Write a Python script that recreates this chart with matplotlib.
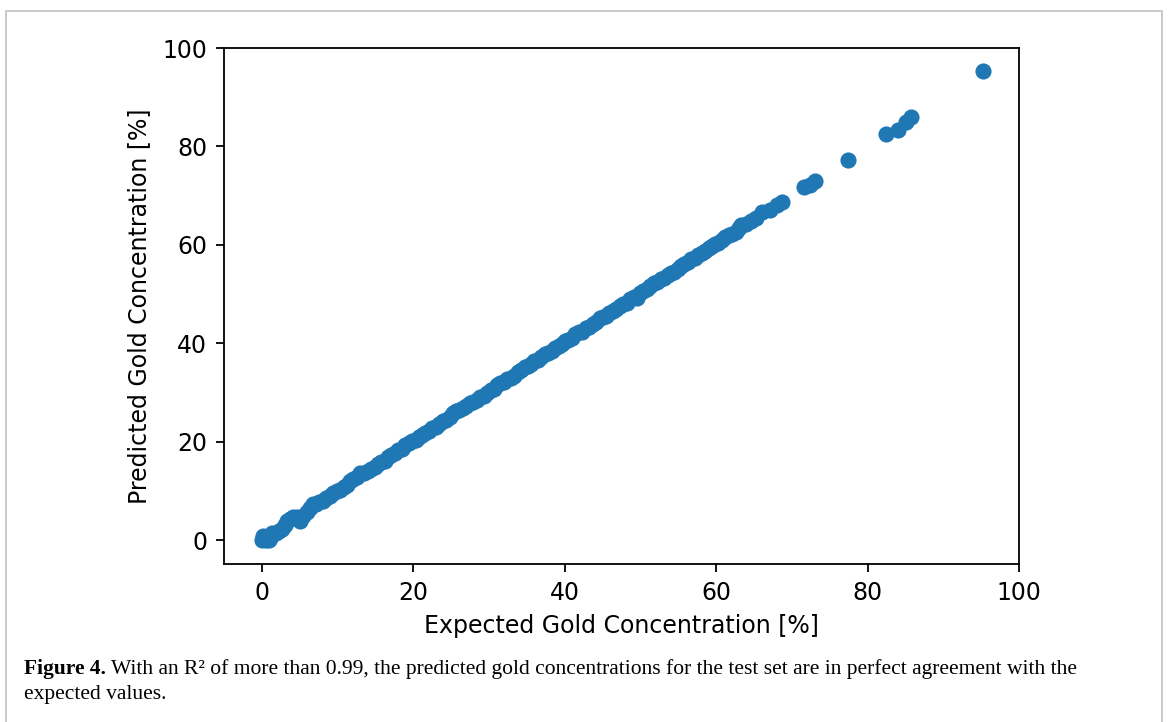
import matplotlib

matplotlib.use("Agg")
import matplotlib.pyplot as plt
from matplotlib.patches import Rectangle

# expected vs predicted gold concentration [%]
expected = [
    0.0, 0.1, 0.3, 0.6, 0.9, 1.1, 1.4, 1.8, 2.2, 2.6, 3.0, 3.3, 3.7, 4.1, 4.6,
    5.1, 5.4, 5.9, 6.3, 6.8, 7.2, 7.6, 8.1, 8.5, 9.0, 9.4, 9.9, 10.3, 10.8, 11.2,
    11.7, 12.1, 12.6, 13.0, 13.5, 14.0, 14.4, 14.9, 15.3, 15.8, 16.2, 16.7, 17.1,
    17.6, 18.0, 18.5, 18.9, 19.4, 19.8, 20.3, 20.7, 21.2, 21.6, 22.1, 22.5, 23.0,
    23.4, 23.9, 24.3, 24.8, 25.2, 25.7, 26.1, 26.6, 27.0, 27.5, 27.9, 28.4, 28.8,
    29.3, 29.7, 30.2, 30.6, 31.1, 31.5, 32.0, 32.4, 32.9, 33.3, 33.8, 34.2, 34.7,
    35.1, 35.6, 36.0, 36.5, 36.9, 37.4, 37.8, 38.3, 38.7, 39.2, 39.6, 40.1, 40.5,
    41.0, 41.4, 41.9, 42.3, 42.8, 43.2, 43.7, 44.1, 44.6, 45.0, 45.5, 45.9, 46.4,
    46.8, 47.3, 47.7, 48.2, 48.6, 49.1, 49.5, 50.0, 50.4, 50.9, 51.3, 51.8, 52.2,
    52.7, 53.1, 53.6, 54.0, 54.5, 54.9, 55.4, 55.8, 56.3, 56.7, 57.2, 57.6, 58.1,
    58.5, 59.0, 59.4, 59.9, 60.3, 60.8, 61.2, 61.7, 62.1, 62.6, 63.0, 63.3, 64.0,
    64.6, 65.3, 66.1, 67.1, 68.1, 68.7, 71.6, 72.4, 73.1, 77.4, 82.5, 84.0, 85.1,
    85.8, 95.3,
]
predicted = [
    0.0, 0.8, 0.2, 0.0, 0.1, 0.4, 1.6, 1.5, 2.0, 2.4, 3.2, 3.9, 4.4, 4.7, 4.8,
    3.9, 4.9, 5.7, 6.6, 7.4, 7.3, 7.8, 8.0, 8.6, 9.0, 9.6, 10.0, 10.2, 10.9, 11.3,
    12.0, 12.4, 12.8, 13.6, 13.7, 14.1, 14.4, 15.0, 15.6, 15.9, 16.2, 17.0, 17.3,
    17.7, 18.4, 18.6, 19.3, 19.7, 20.1, 20.4, 20.9, 21.5, 21.9, 22.3, 22.8, 23.1,
    23.7, 24.2, 24.4, 25.0, 25.9, 26.3, 26.5, 26.8, 27.2, 27.9, 28.1, 28.6, 29.2,
    29.4, 30.0, 30.5, 30.8, 31.5, 31.9, 32.2, 32.8, 33.0, 33.4, 34.1, 34.6, 35.3,
    35.5, 35.8, 36.5, 36.7, 37.2, 37.8, 38.0, 38.4, 39.1, 39.5, 39.8, 40.4, 40.6,
    41.2, 41.9, 42.3, 42.4, 43.1, 43.4, 43.9, 44.4, 45.1, 45.3, 45.6, 46.2, 46.6,
    46.9, 47.6, 48.1, 48.2, 49.1, 49.4, 49.3, 50.3, 50.6, 51.0, 51.6, 52.2, 52.5,
    53.1, 53.3, 54.0, 54.4, 54.6, 55.2, 55.7, 56.2, 56.5, 57.1, 57.4, 57.9, 58.4,
    58.8, 59.3, 59.7, 60.1, 60.4, 61.0, 61.7, 62.0, 62.3, 62.7, 63.4, 64.1, 64.2,
    64.9, 65.5, 66.6, 67.1, 68.2, 68.8, 71.7, 72.2, 72.9, 77.3, 82.5, 83.4, 85.0,
    85.9, 95.3,
]

x_ticks = [0, 20, 40, 60, 80, 100]
y_ticks = [0, 20, 40, 60, 80, 100]

fig = plt.figure(figsize=(11.68, 7.22), dpi=100)

# light grey frame around the figure panel (open at the bottom)
fig.patches.append(Rectangle((6 / 1168, -0.05), 1156 / 1168, 1.05 - 11 / 722,
                             transform=fig.transFigure, fill=False,
                             edgecolor="#c4c4c4", linewidth=1.3))

ax = fig.add_axes([0.1918, 0.2188, 0.6806, 0.7147])
ax.scatter(expected, predicted, s=135, color="#1f77b4", linewidths=0)

ax.set_xlim(-5, 100)
ax.set_ylim(-4.8, 100)
ax.set_xticks(x_ticks)
ax.set_yticks(y_ticks)
ax.tick_params(labelsize=17, length=6, width=1.3, pad=6)
for spine in ax.spines.values():
    spine.set_linewidth(1.3)
ax.set_xlabel("Expected Gold Concentration [%]", fontsize=17, labelpad=7)
ax.set_ylabel("Predicted Gold Concentration [%]", fontsize=17, labelpad=8)

# caption: bold lead-in, then regular text
serif = "Liberation Serif"
cap_size = 15.5
lead = fig.text(24 / 1168, 1 - 669 / 722, "Figure 4.", fontsize=cap_size,
                fontweight="bold", family=serif, va="center")
fig.canvas.draw()
bb = lead.get_window_extent()
fig.text(bb.x1 / 1168 + 0.004, 1 - 669 / 722,
         "With an R² of more than 0.99, the predicted gold concentrations for "
         "the test set are in perfect agreement with the",
         fontsize=cap_size, family=serif, va="center")
fig.text(24 / 1168, 1 - 694 / 722, "expected values.", fontsize=cap_size,
         family=serif, va="center")

fig.savefig("out.png", dpi=100)
